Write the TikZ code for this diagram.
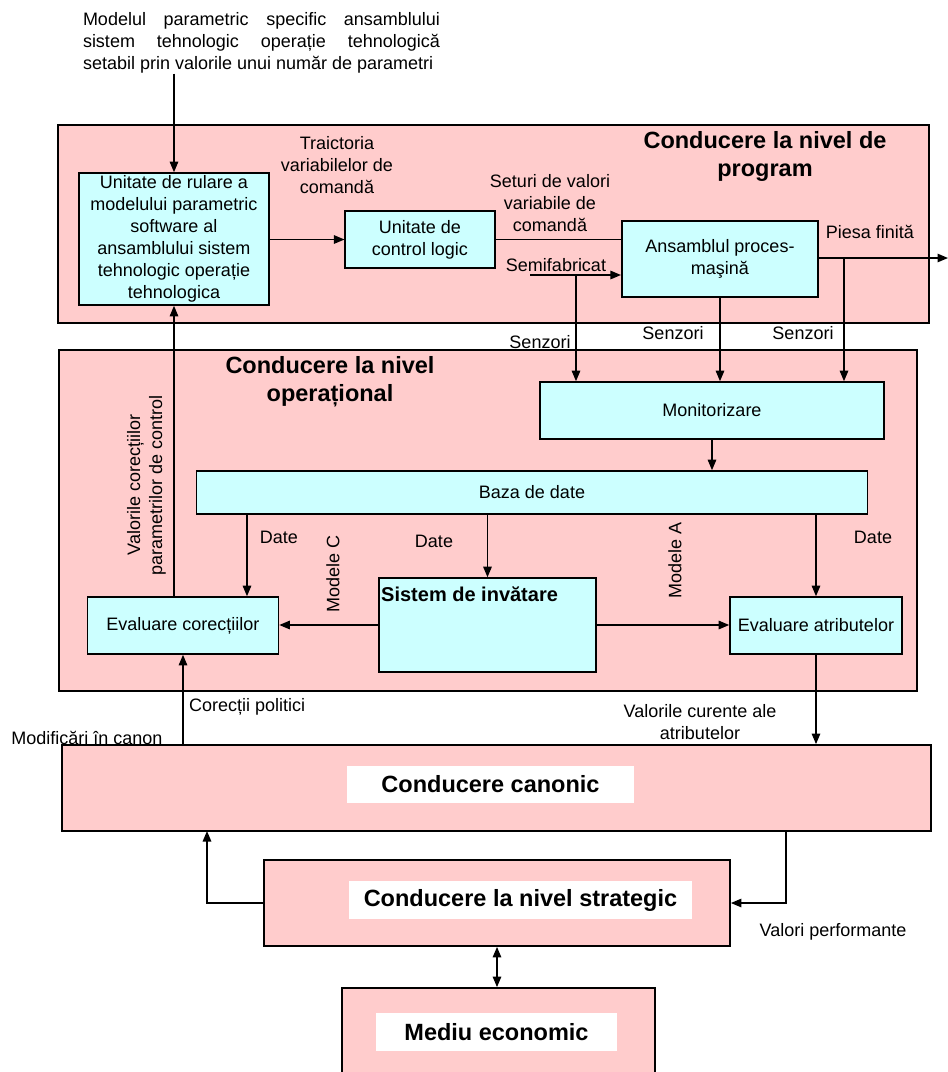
\documentclass[tikz,border=0pt]{standalone}
\usepackage{fontspec}
\setmainfont{Liberation Sans}
\usetikzlibrary{arrows.meta}
\definecolor{panelc}{RGB}{255,204,204}
\definecolor{boxc}{RGB}{204,255,255}
\begin{document}
\begin{tikzpicture}[x=1pt,y=-1pt,
 every node/.style={font=\fontsize{18}{22}\selectfont, inner sep=0pt},
 panelbox/.style={draw, line width=1.8pt, fill=panelc},
 cbox/.style={draw, line width=1.6pt, fill=boxc, align=center},
 lbl/.style={align=center},
 titlef/.style={font=\fontsize{23.5}{28}\selectfont\bfseries, align=center},
 conn/.style={line width=1.3pt},
 arr/.style={conn, -{Triangle[length=10.5pt,width=8.5pt]}},
 darr/.style={conn, {Triangle[length=10.5pt,width=8.5pt]}-{Triangle[length=10.5pt,width=8.5pt]}},
 whitebox/.style={fill=white, font=\fontsize{23.5}{28}\selectfont\bfseries}
]
\useasboundingbox (0,0) rectangle (948,1072);
% panels
\node[panelbox, minimum width=871pt, minimum height=198pt] (prog) at (493.5,224) {};
\node[panelbox, minimum width=858pt, minimum height=341pt] (oper) at (488,520.5) {};
\node[panelbox, minimum width=869pt, minimum height=86pt] (canon) at (496.5,788) {};
\node[panelbox, minimum width=466pt, minimum height=86pt] (strat) at (497,903) {};
\node[panelbox, minimum width=313pt, minimum height=94pt] (med) at (498.3,1035) {};
% white titles
\node[whitebox, minimum width=287pt, minimum height=37pt] (canont) at (490.5,784.5) {Conducere canonic};
\node[whitebox, minimum width=343pt, minimum height=38pt] (stratt) at (520.5,900) {Conducere la nivel strategic};
\node[whitebox, minimum width=241pt, minimum height=38pt] (medt) at (496.5,1032) {Mediu economic};
% panel titles
\node[titlef] (progt) at (765,156) {Conducere la nivel de\\program};
\node[titlef] (opert) at (330,382) {Conducere la nivel\\operațional};
% input text
\node[text width=357pt, align=justify] (input) at (261.5,43) {Modelul parametric specific ansamblului\linebreak sistem tehnologic operație tehnologică\linebreak setabil prin valorile unui număr de parametri};
% inner boxes
\node[cbox, minimum width=190pt, minimum height=132pt] (unit) at (174,239) {Unitate de rulare a\\modelului parametric\\software al\\ansamblului sistem\\tehnologic operație\\tehnologica};
\node[cbox, minimum width=149.5pt, minimum height=57pt] (ctrl) at (420,239.5) {Unitate de\\control logic};
\node[cbox, minimum width=196.5pt, minimum height=76pt] (ans) at (720,259) {Ansamblul proces-\\maşină};
\node[cbox, minimum width=344.5pt, minimum height=57pt] (monit) at (712,410.5) {Monitorizare};
\node[cbox, minimum width=671pt, minimum height=43pt] (baza) at (532,492.5) {Baza de date};
\node[cbox, minimum width=191pt, minimum height=57pt] (evcor) at (183,625.5) {Evaluare corecțiilor};
\node[cbox, minimum width=217pt, minimum height=94pt] (sist) at (487.5,625) {};
\node[anchor=west, font=\fontsize{20}{24}\selectfont\bfseries] (sistt) at (381,594) {Sistem de invătare};
\node[cbox, minimum width=172pt, minimum height=57pt] (evat) at (816,625.5) {Evaluare atributelor};
% labels
\node[lbl] (traj) at (337,165) {Traictoria\\variabilelor de\\comandă};
\node[lbl] (setv) at (550,203) {Seturi de valori\\variabile de\\comandă};
\node[lbl] (semit) at (556,265) {Semifabricat};
\node[lbl] (piesa) at (870,232) {Piesa finită};
\node[lbl] (sen1) at (540,342) {Senzori};
\node[lbl] (sen2) at (673,333) {Senzori};
\node[lbl] (sen3) at (803,333) {Senzori};
\node[lbl] (date1) at (279,537) {Date};
\node[lbl] (date2) at (434,541) {Date};
\node[lbl] (date3) at (873,537) {Date};
\node[lbl, rotate=90] (modc) at (333,574) {Modele C};
\node[lbl, rotate=90] (moda) at (675,560) {Modele A};
\node[lbl, rotate=90] (valcor) at (146.5,485) {Valorile corecțiilor\\parametrilor de control};
\node[anchor=west] (corpol) at (189,707) {Corecții politici};
\node[lbl] (modcan) at (87,738) {Modificări în canon};
\node[lbl] (valcur) at (700,722) {Valorile curente ale\\atributelor};
\node[lbl] (valperf) at (833,932) {Valori performante};
% connectors
\draw[arr] (input.south -| unit.north) -- (unit.north);
\draw[arr] (unit.east |- ctrl.west) -- (ctrl.west);
\draw[conn] (ctrl.east) -- (ctrl.east -| ans.west);
\coordinate (semi) at (530,275);
\draw[arr] (semi) -- (semi -| ans.west);
\coordinate (out) at (948,258);
\draw[arr] (ans.east |- out) -- (out);
\coordinate (s1) at (576,275);
\draw[arr] (s1) -- (s1 |- monit.north);
\draw[arr] (ans.south) -- (ans.south |- monit.north);
\coordinate (s3) at (844,258);
\draw[arr] (s3) -- (s3 |- monit.north);
\draw[arr] (monit.south) -- (monit.south |- baza.north);
\coordinate (d1) at (247,514);
\draw[arr] (d1) -- (d1 |- evcor.north);
\draw[arr] (baza.south -| sist.north) -- (sist.north);
\draw[arr] (baza.south -| evat.north) -- (evat.north);
\draw[arr] (sist.west) -- (sist.west -| evcor.east);
\draw[arr] (sist.east) -- (sist.east -| evat.west);
\draw[arr] (evcor.north -| unit.south) -- (unit.south);
\draw[arr] (canon.north -| evcor.south) -- (evcor.south);
\draw[arr] (evat.south) -- (evat.south |- canon.north);
\coordinate (cl) at (207,831);
\draw[arr] (strat.west) -| (cl);
\coordinate (cr) at (786,831);
\draw[arr] (cr) |- (strat.east);
\draw[darr] (strat.south) -- (strat.south |- med.north);
\end{tikzpicture}
\end{document}
